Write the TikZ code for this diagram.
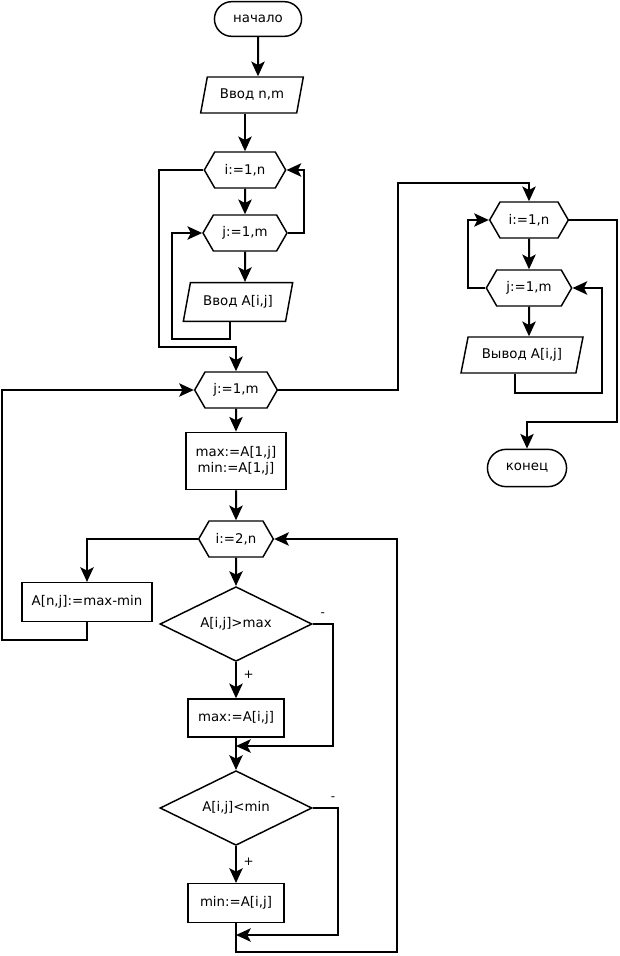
\documentclass[tikz,border=0pt]{standalone}
\usepackage{fontspec}
\setmainfont{DejaVu Sans}
\usetikzlibrary{shapes.geometric,shapes.misc,shapes.symbols,arrows.meta}

\begin{document}
\begin{tikzpicture}[x=0.75pt,y=-0.75pt,
  font=\fontsize{10}{12}\selectfont,
  term/.style={rounded rectangle,draw,line width=1.1pt,minimum width=72pt,minimum height=26pt},
  io/.style={trapezium,trapezium left angle=72,trapezium right angle=108,trapezium stretches body,draw,line width=1.1pt,minimum height=27pt},
  loop/.style={signal,signal to=east and west,signal pointer angle=120,draw,line width=1.1pt,minimum height=27pt,minimum width=61pt},
  proc/.style={rectangle,draw,line width=1.1pt,minimum height=28.5pt},
  cond/.style={diamond,draw,line width=1.1pt,aspect=2,minimum width=114pt,minimum height=56pt},
  arr/.style={line width=1.5pt,-{Stealth[length=11pt,width=10pt,inset=2.5pt]}},
  sign/.style={font=\small,inner sep=1pt}]
\path[use as bounding box] (0,0) rectangle (620,956);

% left column
\node[term] (start) at (258,19) {начало};
\node[io,minimum width=77pt] (inp) at (252,95) {Ввод n,m};
\node[loop] (i1) at (245,170) {i:=1,n};
\node[loop,minimum width=63pt] (j1) at (245,233) {j:=1,m};
\node[io,minimum width=82pt,minimum height=29pt] (inA) at (238,302) {Ввод A[i,j]};
\node[loop,minimum width=62pt] (j2) at (236,390) {j:=1,m};
\node[proc,minimum width=75pt,minimum height=43pt,align=center] (mm) at (236,461) {max:=A[1,j]\\min:=A[1,j]};
\node[loop,minimum width=56pt] (i2) at (236,539) {i:=2,n};
\node[proc,minimum width=97.5pt,minimum height=29pt] (res) at (87,602) {A[n,j]:=max-min};
\node[cond] (c1) at (236,624) {A[i,j]>max};
\node[proc,minimum width=72pt] (mx) at (236,718) {max:=A[i,j]};
\node[cond] (c2) at (236,808) {A[i,j]<min};
\node[proc,minimum width=72pt,minimum height=29pt] (mn) at (236,903) {min:=A[i,j]};

% right column
\node[loop,minimum width=59pt] (ri) at (529,220) {i:=1,n};
\node[loop,minimum width=64pt] (rj) at (529,288) {j:=1,m};
\node[io,minimum width=91.5pt] (out) at (522,355) {Вывод A[i,j]};
\node[term,minimum width=66pt,minimum height=28pt] (stop) at (527,468) {конец};

\coordinate (m1) at (236,746);
\coordinate (m2) at (236,935);

% input
\draw[arr] (start) -- (start |- inp.north);
\draw[arr] (inp.south -| i1) -- (i1.north);
\draw[arr] (i1) -- (j1);
\draw[arr] (j1) -- (j1 |- inA.north);
\draw[arr] (inA.south -| 230,0) |- (172,339) |- (j1.west);
\draw[arr] (j1.east) -| (304,170) -- (i1.east);
\draw[arr] (i1.west) -| (159,347) -| (j2.north);

% columns
\draw[arr] (j2) -- (mm);
\draw[arr] (mm) -- (i2);
\draw[arr] (i2.west) -| (res.north);
\draw[arr] (res.south) |- (2,640) |- (j2.west);
\draw[arr] (i2) -- (c1);
\draw[arr] (c1) -- node[sign,pos=.35,right=4pt] {+} (mx);
\draw[arr] (c1.east) -| node[sign,pos=.25,above=4pt] {-} (333,746) -- (m1);
\draw[arr] (mx) -- (c2);
\draw[arr] (c2) -- node[sign,pos=.43,right=4pt] {+} (mn);
\draw[arr] (c2.east) -| node[sign,pos=.4,above=4pt] {-} (338,935) -- (m2);
\draw[arr] (mn.south) |- (397,952) |- (i2.east);

% output
\draw[arr] (j2.east) -| (398,183) -| (ri.north);
\draw[arr] (ri) -- (rj);
\draw[arr] (rj) -- (rj |- out.north);
\draw[arr] (out.south -| 515,0) |- (602,393) |- (rj.east);
\draw[arr] (rj.west) -| (468,220) -- (ri.west);
\draw[arr] (ri.east) -| (617,422) -| (stop.north);
\end{tikzpicture}
\end{document}
